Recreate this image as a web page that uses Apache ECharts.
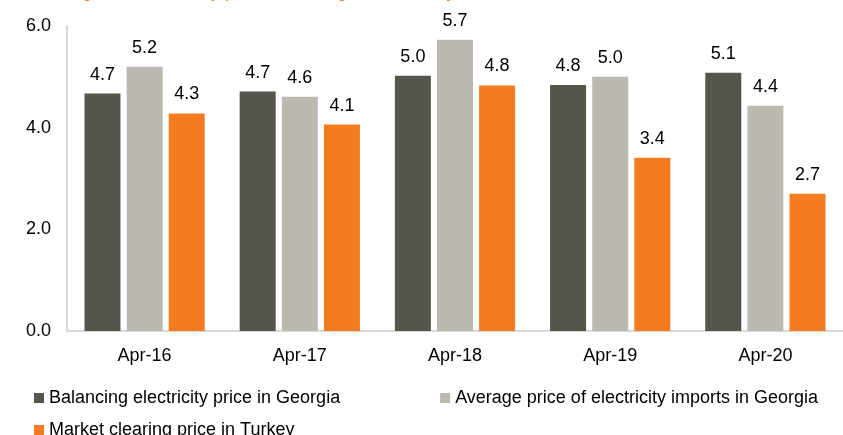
<!DOCTYPE html>
<html>
<head>
<meta charset="utf-8">
<script src="https://cdn.jsdelivr.net/npm/echarts@6/dist/echarts.min.js"></script>
<style>
  html, body { margin: 0; padding: 0; background: #fff; }
  #chart { width: 843px; height: 435px; }
</style>
</head>
<body>
<div id="chart"></div>
<script>
// categories and series (USc/kWh)
const categories = ["Apr-16", "Apr-17", "Apr-18", "Apr-19", "Apr-20"];
const balancingGeo = [4.67, 4.71, 5.02, 4.84, 5.08];
const importsGeo = [5.2, 4.61, 5.73, 5.0, 4.43];
const clearingTur = [4.28, 4.06, 4.83, 3.41, 2.7];
const yTicks = [0, 2, 4, 6];

const names = [
  "Balancing electricity price in Georgia",
  "Average price of electricity imports in Georgia",
  "Market clearing price in Turkey",
];
const colors = ["#55554b", "#bcb9b1", "#f47b20"];
const font = "Liberation Sans, Arial, sans-serif";

const chart = echarts.init(document.getElementById("chart"));

function barSeries(name, data, color) {
  return {
    name: name,
    type: "bar",
    data: data,
    barWidth: 36,
    barGap: "17%",
    itemStyle: { color: color },
    label: {
      show: true,
      position: "top",
      distance: 10,
      color: "#000",
      fontSize: 18,
      fontFamily: font,
      formatter: (p) => p.value.toFixed(1),
    },
  };
}

const option = {
  animation: false,
  color: colors,
  // title is cut off by the top edge in the original
  title: {
    text: "Figure 3: Electricity prices in Georgia and Turkey, USc/kWh",
    left: 62,
    top: -22,
    textStyle: { color: "#f47b20", fontSize: 18, fontWeight: "normal", fontFamily: font },
  },
  grid: { left: 67, right: 0, top: 26, bottom: 104 },
  legend: [
    {
      data: [names[0], names[1]],
      left: 29,
      top: 384,
      itemWidth: 10,
      itemHeight: 10,
      itemGap: 100,
      icon: "rect",
      textStyle: { fontSize: 18, color: "#000", fontFamily: font },
    },
    {
      data: [names[2]],
      left: 29,
      top: 416,
      itemWidth: 10,
      itemHeight: 10,
      icon: "rect",
      textStyle: { fontSize: 18, color: "#000", fontFamily: font },
    },
  ],
  xAxis: {
    type: "category",
    data: categories,
    axisLine: { lineStyle: { color: "#d9d9d9", width: 2 } },
    axisTick: { show: false },
    axisLabel: { color: "#000", fontSize: 18, fontFamily: font, margin: 16 },
  },
  yAxis: {
    type: "value",
    min: yTicks[0],
    max: yTicks[yTicks.length - 1],
    interval: 2,
    splitLine: { show: false },
    axisLine: { show: true, lineStyle: { color: "#d9d9d9", width: 2 } },
    axisLabel: {
      color: "#000",
      fontSize: 18,
      fontFamily: font,
      margin: 16,
      formatter: (v) => v.toFixed(1),
    },
  },
  series: [
    barSeries(names[0], balancingGeo, colors[0]),
    barSeries(names[1], importsGeo, colors[1]),
    barSeries(names[2], clearingTur, colors[2]),
  ],
};

chart.setOption(option);
</script>
</body>
</html>
